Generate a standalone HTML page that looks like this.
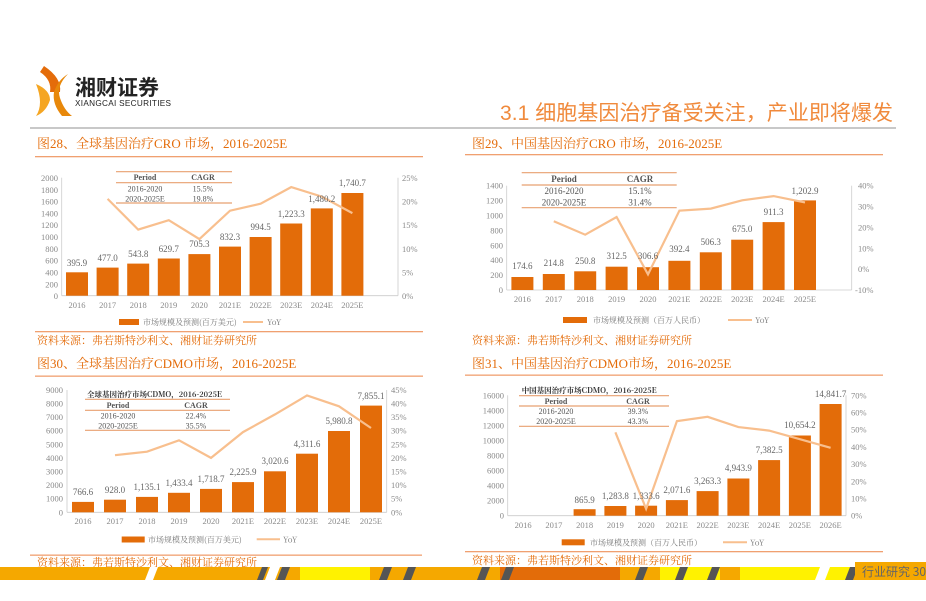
<!DOCTYPE html>
<html><head><meta charset="utf-8"><style>
html,body{margin:0;padding:0;background:#fff;}
svg{display:block;}
.k{font-family:"Liberation Serif",serif;font-size:8.5px;fill:#8a8a8a;}
.v{font-family:"Liberation Serif",serif;font-size:9px;fill:#666;text-anchor:middle;}
.ti{font-family:"Liberation Serif","Noto Serif CJK SC",serif;font-size:13px;fill:#e46c0a;}
.src{font-family:"Noto Serif CJK SC",serif;font-size:11px;fill:#e46c0a;}
.tb{font-family:"Liberation Serif",serif;font-size:8px;fill:#555;text-anchor:middle;}
.lg{font-family:"Noto Serif CJK SC",serif;font-size:8px;fill:#777;}
</style></head><body>
<svg width="926" height="601" viewBox="0 0 926 601" xmlns="http://www.w3.org/2000/svg">
<rect width="926" height="601" fill="#fff"/>
<path d="M44 66 Q62 78 60 92 L50 92 Q52 80 40 72 Z" fill="#e46c0a"/>
<path d="M36 84 Q50 90 50 100 Q46 112 36 116 Q44 104 36 84Z" fill="#f5a623"/>
<path d="M68 74 Q56 86 60 98 Q64 110 72 116 L62 116 Q52 104 54 92 Q58 80 68 74Z" fill="#e8880a"/>
<text x="75" y="95" font-family="Noto Sans CJK SC,sans-serif" font-weight="bold" font-size="21" fill="#222">湘财证券</text>
<text x="75" y="106" font-family="Liberation Sans,sans-serif" font-size="8.2" fill="#222" textLength="96">XIANGCAI SECURITIES</text>
<text x="500" y="120" font-family="Liberation Sans,Noto Sans CJK SC,sans-serif" font-size="21" fill="#f08a3c" textLength="393">3.1 细胞基因治疗备受关注，产业即将爆发</text>
<rect x="30" y="127" width="866" height="2" fill="#c8c8c8"/>

<text x="37" y="148" class="ti">图28、全球基因治疗CRO 市场，2016-2025E</text>
<rect x="35" y="156" width="388" height="1.3" fill="#f0a070"/>
<g class="k" text-anchor="end">
<text x="58" y="299">0</text><text x="58" y="275.4">400</text><text x="58" y="287.6">200</text><text x="58" y="263.6">600</text><text x="58" y="251.8">800</text><text x="58" y="240">1000</text><text x="58" y="228.2">1200</text><text x="58" y="216.4">1400</text><text x="58" y="204.6">1600</text><text x="58" y="192.8">1800</text><text x="58" y="181">2000</text>
</g>
<g class="k"><text x="402" y="299">0%</text><text x="402" y="275.4">5%</text><text x="402" y="251.8">10%</text><text x="402" y="228.2">15%</text><text x="402" y="204.6">20%</text><text x="402" y="181">25%</text></g>
<line x1="61.7" y1="177.7" x2="61.7" y2="295.7" stroke="#ccc" stroke-width="0.8"/>
<line x1="398" y1="177.7" x2="398" y2="295.7" stroke="#ccc" stroke-width="0.8"/>
<line x1="61.7" y1="295.7" x2="398" y2="295.7" stroke="#ccc" stroke-width="0.8"/>
<g fill="#e36c09">
<rect x="66" y="272.3" width="22" height="23.4"/><rect x="96.6" y="267.6" width="22" height="28.1"/><rect x="127.2" y="263.6" width="22" height="32.1"/><rect x="157.8" y="258.5" width="22" height="37.2"/><rect x="188.4" y="254.1" width="22" height="41.6"/><rect x="219" y="246.6" width="22" height="49.1"/><rect x="249.6" y="237" width="22" height="58.7"/><rect x="280.2" y="223.5" width="22" height="72.2"/><rect x="310.8" y="208.4" width="22" height="87.3"/><rect x="341.4" y="193" width="22" height="102.7"/>
</g>
<polyline points="107.6,198.9 138.2,229.6 168.8,220.2 199.4,239.1 230,210.7 260.6,203.7 291.2,187.1 321.8,196.6 352.4,213.1" fill="none" stroke="#f8bf8e" stroke-width="2.2"/>
<g class="v"><text x="77" y="266">395.9</text><text x="107.6" y="261">477.0</text><text x="138.2" y="257">543.8</text><text x="168.8" y="252">629.7</text><text x="199.4" y="247">705.3</text><text x="230" y="240">832.3</text><text x="260.6" y="230">994.5</text><text x="291.2" y="217">1,223.3</text><text x="321.8" y="202">1,480.2</text><text x="352.4" y="186">1,740.7</text></g>
<g class="k" text-anchor="middle"><text x="77" y="308">2016</text><text x="107.6" y="308">2017</text><text x="138.2" y="308">2018</text><text x="168.8" y="308">2019</text><text x="199.4" y="308">2020</text><text x="230" y="308">2021E</text><text x="260.6" y="308">2022E</text><text x="291.2" y="308">2023E</text><text x="321.8" y="308">2024E</text><text x="352.4" y="308">2025E</text></g>
<g stroke="#e8a070" stroke-width="1.2"><line x1="116" y1="171.7" x2="232" y2="171.7"/><line x1="116" y1="182.7" x2="232" y2="182.7"/><line x1="116" y1="203" x2="232" y2="203"/></g>
<g class="tb"><text x="145" y="180" font-weight="bold">Period</text><text x="203" y="180" font-weight="bold">CAGR</text><text x="145" y="191.5">2016-2020</text><text x="203" y="191.5">15.5%</text><text x="145" y="201.5">2020-2025E</text><text x="203" y="201.5">19.8%</text></g>
<rect x="119" y="319" width="20" height="6" fill="#e36c09"/><text x="143" y="325" class="lg">市场规模及预测(百万美元)</text>
<line x1="243" y1="322" x2="263" y2="322" stroke="#f8bf8e" stroke-width="2"/><text x="267" y="325" class="lg">YoY</text>
<rect x="35" y="331" width="388" height="1.3" fill="#f0a070"/>
<text x="37" y="344" class="src">资料来源：弗若斯特沙利文、湘财证券研究所</text>

<text x="472" y="148" class="ti">图29、中国基因治疗CRO 市场，2016-2025E</text>
<rect x="465" y="154" width="418" height="1.3" fill="#f0a070"/>
<g class="k" text-anchor="end"><text x="503" y="293">0</text><text x="503" y="278.1">200</text><text x="503" y="263.2">400</text><text x="503" y="248.3">600</text><text x="503" y="233.4">800</text><text x="503" y="218.5">1000</text><text x="503" y="203.6">1200</text><text x="503" y="188.7">1400</text></g>
<g class="k"><text x="855" y="293">-10%</text><text x="858" y="272.1">0%</text><text x="858" y="251.3">10%</text><text x="858" y="230.4">20%</text><text x="858" y="209.6">30%</text><text x="858" y="188.7">40%</text></g>
<line x1="506.7" y1="185.7" x2="506.7" y2="290" stroke="#ccc" stroke-width="0.8"/>
<line x1="851.7" y1="185.7" x2="851.7" y2="290" stroke="#ccc" stroke-width="0.8"/>
<line x1="506.7" y1="290" x2="851.7" y2="290" stroke="#ccc" stroke-width="0.8"/>
<g fill="#e36c09">
<rect x="511.4" y="277" width="22" height="13"/><rect x="542.8" y="274" width="22" height="16"/><rect x="574.2" y="271.3" width="22" height="18.7"/><rect x="605.6" y="266.7" width="22" height="23.3"/><rect x="637" y="267.2" width="22" height="22.8"/><rect x="668.4" y="260.8" width="22" height="29.2"/><rect x="699.8" y="252.3" width="22" height="37.7"/><rect x="731.2" y="239.7" width="22" height="50.3"/><rect x="762.6" y="222.1" width="22" height="67.9"/><rect x="794" y="200.4" width="22" height="89.6"/>
</g>
<polyline points="553.8,221.2 585.2,234.7 616.6,217 648,274.4 679.4,210.7 710.8,208.6 742.2,200.3 773.6,196.1 805,202.4" fill="none" stroke="#f8bf8e" stroke-width="2.2"/>
<g class="v"><text x="522.4" y="269">174.6</text><text x="553.8" y="266">214.8</text><text x="585.2" y="264">250.8</text><text x="616.6" y="259">312.5</text><text x="648" y="259">306.6</text><text x="679.4" y="252">392.4</text><text x="710.8" y="245">506.3</text><text x="742.2" y="232">675.0</text><text x="773.6" y="215">911.3</text><text x="805" y="194">1,202.9</text></g>
<g class="k" text-anchor="middle"><text x="522.4" y="302">2016</text><text x="553.8" y="302">2017</text><text x="585.2" y="302">2018</text><text x="616.6" y="302">2019</text><text x="648" y="302">2020</text><text x="679.4" y="302">2021E</text><text x="710.8" y="302">2022E</text><text x="742.2" y="302">2023E</text><text x="773.6" y="302">2024E</text><text x="805" y="302">2025E</text></g>
<g stroke="#e8a070" stroke-width="1.2"><line x1="521.7" y1="172.7" x2="676.7" y2="172.7"/><line x1="521.7" y1="185" x2="676.7" y2="185"/><line x1="521.7" y1="207.7" x2="676.7" y2="207.7"/></g>
<g class="tb" style="font-size:9px"><text x="564" y="182" font-weight="bold">Period</text><text x="640" y="182" font-weight="bold">CAGR</text><text x="564" y="194">2016-2020</text><text x="640" y="194">15.1%</text><text x="564" y="205.5">2020-2025E</text><text x="640" y="205.5">31.4%</text></g>
<rect x="563" y="317" width="24" height="6" fill="#e36c09"/><text x="593" y="323" class="lg">市场规模及预测（百万人民币）</text>
<line x1="728" y1="320" x2="752" y2="320" stroke="#f8bf8e" stroke-width="2"/><text x="755" y="323" class="lg">YoY</text>
<text x="472" y="344" class="src">资料来源：弗若斯特沙利文、湘财证券研究所</text>

<text x="37" y="368" class="ti">图30、全球基因治疗CDMO市场，2016-2025E</text>
<rect x="35" y="375.5" width="388" height="1.3" fill="#f0a070"/>
<g class="k" text-anchor="end"><text x="63" y="515.3">0</text><text x="63" y="501.7">1000</text><text x="63" y="488.1">2000</text><text x="63" y="474.5">3000</text><text x="63" y="460.9">4000</text><text x="63" y="447.3">5000</text><text x="63" y="433.7">6000</text><text x="63" y="420.1">7000</text><text x="63" y="406.5">8000</text><text x="63" y="393">9000</text></g>
<g class="k"><text x="391" y="515.3">0%</text><text x="391" y="501.7">5%</text><text x="391" y="488.1">10%</text><text x="391" y="474.5">15%</text><text x="391" y="460.9">20%</text><text x="391" y="447.3">25%</text><text x="391" y="433.7">30%</text><text x="391" y="420.1">35%</text><text x="391" y="406.5">40%</text><text x="391" y="393">45%</text></g>
<line x1="67" y1="390" x2="67" y2="512.3" stroke="#ccc" stroke-width="0.8"/>
<line x1="386.7" y1="390" x2="386.7" y2="512.3" stroke="#ccc" stroke-width="0.8"/>
<line x1="67" y1="512.3" x2="386.7" y2="512.3" stroke="#ccc" stroke-width="0.8"/>
<g fill="#e36c09">
<rect x="72" y="501.9" width="22" height="10.4"/><rect x="104" y="499.7" width="22" height="12.6"/><rect x="136" y="496.9" width="22" height="15.4"/><rect x="168" y="492.8" width="22" height="19.5"/><rect x="200" y="488.9" width="22" height="23.4"/><rect x="232" y="482.1" width="22" height="30.2"/><rect x="264" y="471.3" width="22" height="41"/><rect x="296" y="453.7" width="22" height="58.6"/><rect x="328" y="431" width="22" height="81.3"/><rect x="360" y="405.6" width="22" height="106.7"/>
</g>
<polyline points="115,455.2 147,451.7 179,440.3 211,457.9 243,432.1 275,414.4 307,395.4 339,406.3 371,428" fill="none" stroke="#f8bf8e" stroke-width="2.2"/>
<g class="v"><text x="83" y="495">766.6</text><text x="115" y="493">928.0</text><text x="147" y="490">1,135.1</text><text x="179" y="486">1,433.4</text><text x="211" y="482">1,718.7</text><text x="243" y="475">2,225.9</text><text x="275" y="464">3,020.6</text><text x="307" y="447">4,311.6</text><text x="339" y="424">5,980.8</text><text x="371" y="399">7,855.1</text></g>
<g class="k" text-anchor="middle"><text x="83" y="524">2016</text><text x="115" y="524">2017</text><text x="147" y="524">2018</text><text x="179" y="524">2019</text><text x="211" y="524">2020</text><text x="243" y="524">2021E</text><text x="275" y="524">2022E</text><text x="307" y="524">2023E</text><text x="339" y="524">2024E</text><text x="371" y="524">2025E</text></g>
<text x="87" y="397" font-family="Noto Serif CJK SC,serif" font-size="7.5" font-weight="bold" fill="#333">全球基因治疗市场CDMO，2016-2025E</text>
<g stroke="#e8a070" stroke-width="1.2"><line x1="85" y1="399.3" x2="230" y2="399.3"/><line x1="85" y1="410.3" x2="230" y2="410.3"/><line x1="85" y1="430.3" x2="230" y2="430.3"/></g>
<g class="tb"><text x="118" y="408" font-weight="bold">Period</text><text x="196" y="408" font-weight="bold">CAGR</text><text x="118" y="418.5">2016-2020</text><text x="196" y="418.5">22.4%</text><text x="118" y="428.5">2020-2025E</text><text x="196" y="428.5">35.5%</text></g>
<rect x="121.7" y="536.5" width="23" height="6" fill="#e36c09"/><text x="148" y="542.5" class="lg">市场规模及预测(百万美元)</text>
<line x1="256.7" y1="539.3" x2="280" y2="539.3" stroke="#f8bf8e" stroke-width="2"/><text x="283" y="542.5" class="lg">YoY</text>
<rect x="30" y="554.5" width="392" height="1.3" fill="#f0a070"/>
<text x="37" y="566" class="src">资料来源：弗若斯特沙利文、湘财证券研究所</text>

<text x="472" y="368" class="ti">图31、中国基因治疗CDMO市场，2016-2025E</text>
<rect x="465" y="374.5" width="418" height="1.3" fill="#f0a070"/>
<g class="k" text-anchor="end"><text x="504" y="518.7">0</text><text x="504" y="503.7">2000</text><text x="504" y="488.6">4000</text><text x="504" y="473.6">6000</text><text x="504" y="458.5">8000</text><text x="504" y="443.5">10000</text><text x="504" y="428.4">12000</text><text x="504" y="413.4">14000</text><text x="504" y="398.3">16000</text></g>
<g class="k"><text x="851" y="518.7">0%</text><text x="851" y="501.5">10%</text><text x="851" y="484.3">20%</text><text x="851" y="467.1">30%</text><text x="851" y="449.9">40%</text><text x="851" y="432.7">50%</text><text x="851" y="415.5">60%</text><text x="851" y="398.3">70%</text></g>
<line x1="507.7" y1="395.3" x2="507.7" y2="515.7" stroke="#ccc" stroke-width="0.8"/>
<line x1="846" y1="395.3" x2="846" y2="515.7" stroke="#ccc" stroke-width="0.8"/>
<line x1="507.7" y1="515.7" x2="846" y2="515.7" stroke="#ccc" stroke-width="0.8"/>
<g fill="#e36c09">
<rect x="573.6" y="509.2" width="22" height="6.5"/><rect x="604.4" y="506" width="22" height="9.7"/><rect x="635.1" y="505.7" width="22" height="10"/><rect x="665.9" y="500.1" width="22" height="15.6"/><rect x="696.6" y="491.1" width="22" height="24.6"/><rect x="727.4" y="478.5" width="22" height="37.2"/><rect x="758.1" y="460.1" width="22" height="55.6"/><rect x="788.9" y="435.5" width="22" height="80.2"/><rect x="819.6" y="404" width="22" height="111.7"/>
</g>
<polyline points="615.4,432.3 646.1,508.8 676.9,421.1 707.6,416.8 738.4,427.1 769.1,430.6 799.9,439.2 830.6,447.8" fill="none" stroke="#f8bf8e" stroke-width="2.2"/>
<g class="v"><text x="584.6" y="503">865.9</text><text x="615.4" y="499">1,283.8</text><text x="646.1" y="499">1,333.6</text><text x="676.9" y="493">2,071.6</text><text x="707.6" y="484">3,263.3</text><text x="738.4" y="471">4,943.9</text><text x="769.1" y="453">7,382.5</text><text x="799.9" y="428">10,654.2</text><text x="830.6" y="397">14,841.7</text></g>
<g class="k" text-anchor="middle"><text x="523.1" y="528">2016</text><text x="553.9" y="528">2017</text><text x="584.6" y="528">2018</text><text x="615.4" y="528">2019</text><text x="646.1" y="528">2020</text><text x="676.9" y="528">2021E</text><text x="707.6" y="528">2022E</text><text x="738.4" y="528">2023E</text><text x="769.1" y="528">2024E</text><text x="799.9" y="528">2025E</text><text x="830.6" y="528">2026E</text></g>
<text x="521.7" y="393" font-family="Noto Serif CJK SC,serif" font-size="7.5" font-weight="bold" fill="#333">中国基因治疗市场CDMO，2016-2025E</text>
<g stroke="#e8a070" stroke-width="1.2"><line x1="519" y1="395.7" x2="669" y2="395.7"/><line x1="519" y1="406" x2="669" y2="406"/><line x1="519" y1="426.3" x2="669" y2="426.3"/></g>
<g class="tb"><text x="556" y="404" font-weight="bold">Period</text><text x="638" y="404" font-weight="bold">CAGR</text><text x="556" y="414">2016-2020</text><text x="638" y="414">39.3%</text><text x="556" y="424">2020-2025E</text><text x="638" y="424">43.3%</text></g>
<rect x="561.7" y="539.3" width="23" height="6" fill="#e36c09"/><text x="590" y="545.3" class="lg">市场规模及预测（百万人民币）</text>
<line x1="723" y1="542.3" x2="747" y2="542.3" stroke="#f8bf8e" stroke-width="2"/><text x="750" y="545.3" class="lg">YoY</text>
<rect x="465" y="551" width="418" height="1.3" fill="#f0a070"/>
<text x="472" y="564" class="src">资料来源：弗若斯特沙利文、湘财证券研究所</text>

<rect x="0" y="567" width="926" height="13" fill="#f5a800"/>
<rect x="300" y="567" width="70" height="13" fill="#fff200"/>
<rect x="500" y="567" width="120" height="13" fill="#e36c09"/>
<rect x="660" y="567" width="60" height="13" fill="#fff200"/>
<rect x="740" y="567" width="110" height="13" fill="#fff200"/>
<g fill="#fff">
<polygon points="150,567 158,567 153,580 145,580"/>
<polygon points="270,567 280,567 275,580 265,580"/>
<polygon points="820,567 830,567 825,580 815,580"/>
</g>
<g fill="#555">
<polygon points="262,567 268,567 263,580 257,580"/>
<polygon points="282,567 290,567 285,580 277,580"/>
<polygon points="384,567 392,567 387,580 379,580"/>
<polygon points="408,567 416,567 411,580 403,580"/>
<polygon points="482,567 490,567 485,580 477,580"/>
<polygon points="506,567 514,567 509,580 501,580"/>
<polygon points="640,567 648,567 643,580 635,580"/>
<polygon points="680,567 688,567 683,580 675,580"/>
<polygon points="712,567 720,567 715,580 707,580"/>
<polygon points="850,567 858,567 853,580 845,580"/>
</g>
<rect x="855" y="562" width="71" height="18" fill="#f5a800"/>
<text x="862" y="576" font-family="Noto Sans CJK SC,sans-serif" font-size="12" fill="#666">行业研究 30</text>
</svg>
</body></html>
